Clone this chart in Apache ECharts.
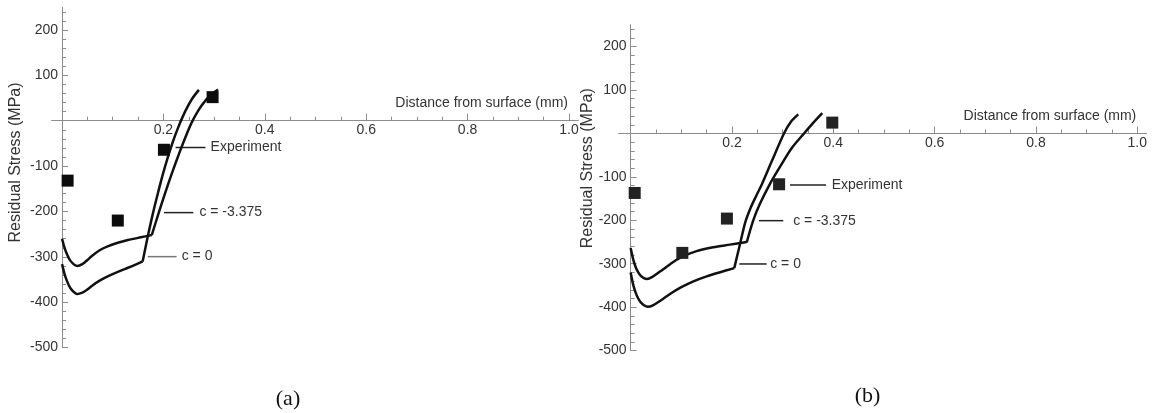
<!DOCTYPE html>
<html>
<head>
<meta charset="utf-8">
<script src="https://cdn.jsdelivr.net/npm/echarts@6/dist/echarts.min.js"></script>
<style>
  html, body { margin: 0; padding: 0; background: #fff; }
  #chart { width: 1154px; height: 413px; }
</style>
</head>
<body>
<div id="chart"></div>
<script>
// ---- Panel (a): measured points and model curves (x in mm, stress in MPa) ----
const A_EXPERIMENT = [[0.011, -132], [0.110, -220], [0.201, -64], [0.297, 52]];
const A_C0_NEAR = [[0, -316], [0.005, -338], [0.01, -354], [0.015, -366], [0.02, -374], [0.025, -379], [0.03, -382],
  [0.04, -379], [0.05, -372], [0.06, -363], [0.075, -352], [0.09, -343], [0.11, -333], [0.13, -324], [0.145, -317], [0.159, -310]];
const A_C0_DEEP = [[0.159, -310], [0.1688, -257], [0.1787, -207], [0.1886, -162], [0.1984, -120], [0.2083, -82],
  [0.2181, -48], [0.228, -18], [0.2379, 8.5], [0.2477, 31], [0.2576, 50], [0.270, 68]];
const A_C3_NEAR = [[0, -260], [0.005, -280], [0.01, -295], [0.015, -306], [0.02, -313], [0.025, -318], [0.03, -320],
  [0.04, -316], [0.05, -307], [0.06, -297], [0.075, -285], [0.09, -277], [0.11, -269], [0.13, -263], [0.155, -257], [0.177, -252]];
const A_C3_DEEP = [[0.177, -252], [0.1893, -208], [0.2032, -160], [0.217, -115], [0.2327, -67], [0.2446, -33],
  [0.2564, -2.6], [0.2702, 25], [0.284, 46], [0.2959, 59], [0.3077, 69]];

// ---- Panel (b) ----
const B_EXPERIMENT = [[0.008, -137], [0.102, -275], [0.190, -196], [0.293, -117], [0.398, 25]];
const B_C0_NEAR = [[0, -320], [0.005, -348], [0.01, -367], [0.015, -380], [0.02, -389], [0.027, -396], [0.0336, -399],
  [0.045, -395], [0.06, -384], [0.08, -368], [0.1, -354], [0.125, -340], [0.15, -329], [0.175, -320], [0.2045, -310]];
const B_C0_DEEP = [[0.2045, -310], [0.2158, -255], [0.2266, -203], [0.2365, -172], [0.2473, -145], [0.2586, -118],
  [0.2789, -63], [0.3026, 0], [0.3164, 27], [0.3308, 44]];
const B_C3_NEAR = [[0, -264], [0.005, -290], [0.01, -308], [0.015, -320], [0.02, -328], [0.026, -333], [0.032, -335],
  [0.042, -331], [0.058, -318], [0.078, -301], [0.1, -285], [0.13, -271], [0.163, -262], [0.196, -256], [0.229, -250]];
const B_C3_DEEP = [[0.229, -251], [0.242, -200], [0.2552, -162], [0.275, -116], [0.2947, -77], [0.3184, -33],
  [0.3421, 0], [0.3598, 24], [0.3782, 47]];

// ---- Axis ticks and labels ----
const X_MAJOR = [0.2, 0.4, 0.6, 0.8, 1.0];
const X_MINOR = [0.05, 0.1, 0.15, 0.25, 0.3, 0.35, 0.45, 0.5, 0.55, 0.65, 0.7, 0.75, 0.85, 0.9, 0.95];
const Y_MAJOR = [-500, -400, -300, -200, -100, 100, 200];
const Y_MINOR = [-480, -460, -440, -420, -380, -360, -340, -320, -280, -260, -240, -220, -180, -160, -140, -120,
  -80, -60, -40, -20, 20, 40, 60, 80, 120, 140, 160, 180, 220, 240];

const X_TITLE = 'Distance from surface (mm)';
const Y_TITLE = 'Residual Stress (MPa)';
const PANEL_TAGS = ['(a)', '(b)'];

// Callouts: leader line from x1 to x2 at stress y, text starting at tx (all in data units)
const CALLOUTS = [
  [
    { text: 'Experiment', x1: 0.224, x2: 0.283, y: -59, tx: 0.293, color: '#222' },
    { text: 'c = -3.375', x1: 0.201, x2: 0.259, y: -202.5, tx: 0.271, color: '#222' },
    { text: 'c = 0', x1: 0.169, x2: 0.226, y: -299.5, tx: 0.236, color: '#777' }
  ],
  [
    { text: 'Experiment', x1: 0.3145, x2: 0.3857, y: -118.6, tx: 0.3968, color: '#222' },
    { text: 'c = -3.375', x1: 0.2533, x2: 0.3012, y: -200.8, tx: 0.3208, color: '#222' },
    { text: 'c = 0', x1: 0.2144, x2: 0.2685, y: -300.5, tx: 0.2755, color: '#222' }
  ]
];

const FONT = 'Liberation Sans, Arial, Helvetica, sans-serif';
const AXIS_GREY = '#8c8c8c';
const TEXT_GREY = '#333';

const chart = echarts.init(document.getElementById('chart'), null, { renderer: 'canvas' });

function xAxes(gridIndex, min) {
  const base = {
    type: 'value', gridIndex: gridIndex, min: min, max: 1.018, position: 'bottom',
    splitLine: { show: false }, axisLabel: { show: false },
    axisLine: { onZero: true, lineStyle: { color: AXIS_GREY, width: 1 } }
  };
  return [
    Object.assign({}, base, {
      axisTick: { inside: true, length: 7, customValues: X_MAJOR, lineStyle: { color: AXIS_GREY } }
    }),
    Object.assign({}, base, {
      axisTick: { inside: true, length: 4, customValues: X_MINOR, lineStyle: { color: AXIS_GREY } }
    })
  ];
}

function yAxes(gridIndex) {
  const base = {
    type: 'value', gridIndex: gridIndex, min: -500, max: 250, position: 'left',
    splitLine: { show: false }, axisLabel: { show: false },
    axisLine: { onZero: true, lineStyle: { color: AXIS_GREY, width: 1 } }
  };
  return [
    Object.assign({}, base, {
      axisTick: { inside: true, length: 6, customValues: Y_MAJOR, lineStyle: { color: AXIS_GREY } }
    }),
    Object.assign({}, base, {
      axisTick: { inside: true, length: 4, customValues: Y_MINOR, lineStyle: { color: AXIS_GREY } }
    })
  ];
}

function curve(data, xi, yi) {
  return {
    type: 'line', data: data, xAxisIndex: xi, yAxisIndex: yi, showSymbol: false, smooth: 0.3,
    lineStyle: { color: '#111', width: 2.5 }, silent: true, z: 3
  };
}

function points(data, xi, yi, color) {
  return {
    type: 'scatter', data: data, xAxisIndex: xi, yAxisIndex: yi, symbol: 'rect', symbolSize: 12,
    itemStyle: { color: color, opacity: 1 }, silent: true, z: 4
  };
}

chart.setOption({
  animation: false,
  backgroundColor: '#fff',
  grid: [
    { left: 51.9, top: 7.3, width: 526.2, height: 340.3, containLabel: false },
    { left: 619.0, top: 24.9, width: 527.4, height: 325.7, containLabel: false }
  ],
  xAxis: [...xAxes(0, -0.02), ...xAxes(1, -0.023)],
  yAxis: [...yAxes(0), ...yAxes(1)],
  series: [
    curve(A_C0_NEAR, 0, 0), curve(A_C0_DEEP, 0, 0),
    curve(A_C3_NEAR, 0, 0), curve(A_C3_DEEP, 0, 0),
    points(A_EXPERIMENT, 0, 0, '#0c0c0c'),
    curve(B_C0_NEAR, 2, 2), curve(B_C0_DEEP, 2, 2),
    curve(B_C3_NEAR, 2, 2), curve(B_C3_DEEP, 2, 2),
    points(B_EXPERIMENT, 2, 2, '#222')
  ]
});

// Tick labels, titles, callouts and panel tags placed through the axis scales
function toPx(panel, pt) {
  return chart.convertToPixel({ xAxisIndex: panel * 2, yAxisIndex: panel * 2 }, pt);
}

function label(x, y, text, align, vAlign, font, fill, rotation) {
  return {
    type: 'text', x: x, y: y, rotation: rotation || 0, silent: true,
    style: { text: text, fill: fill || TEXT_GREY, font: font || ('14px ' + FONT), align: align, verticalAlign: vAlign }
  };
}

const graphics = [];
[0, 1].forEach(panel => {
  const origin = toPx(panel, [0, 0]);
  const end = toPx(panel, [1.0, 0]);

  X_MAJOR.forEach(v => {
    const p = toPx(panel, [v, 0]);
    graphics.push(label(p[0], p[1] + 2.5, v.toFixed(1), 'center', 'top'));
  });
  Y_MAJOR.forEach(v => {
    const p = toPx(panel, [0, v]);
    graphics.push(label(p[0] - 4, p[1], String(v), 'right', 'middle'));
  });

  // x-axis title, right-aligned above the axis near 1.0
  graphics.push(label(end[0] - 1, origin[1] - 17.5, X_TITLE, 'right', 'middle'));
  // y-axis title, reading upward
  const yMid = toPx(panel, [0, panel === 0 ? -92 : -80]);
  graphics.push(label(origin[0] - (panel === 0 ? 46 : 43), yMid[1], Y_TITLE, 'center', 'middle',
    '16px ' + FONT, TEXT_GREY, Math.PI / 2));

  CALLOUTS[panel].forEach(c => {
    const p1 = toPx(panel, [c.x1, c.y]);
    const p2 = toPx(panel, [c.x2, c.y]);
    const pt = toPx(panel, [c.tx, c.y]);
    graphics.push({
      type: 'line', silent: true,
      shape: { x1: p1[0], y1: p1[1], x2: p2[0], y2: p2[1] },
      style: { stroke: c.color, lineWidth: 1.5 }
    });
    graphics.push(label(pt[0], pt[1], c.text, 'left', 'middle'));
  });
});

// panel tags under each plot
const TAG_FONT = '22px "Liberation Serif", "DejaVu Serif", serif';
graphics.push(label(288, 399, PANEL_TAGS[0], 'center', 'middle', TAG_FONT, '#111'));
graphics.push(label(867.5, 396, PANEL_TAGS[1], 'center', 'middle', TAG_FONT, '#111'));

chart.setOption({ graphic: graphics });
</script>
</body>
</html>
